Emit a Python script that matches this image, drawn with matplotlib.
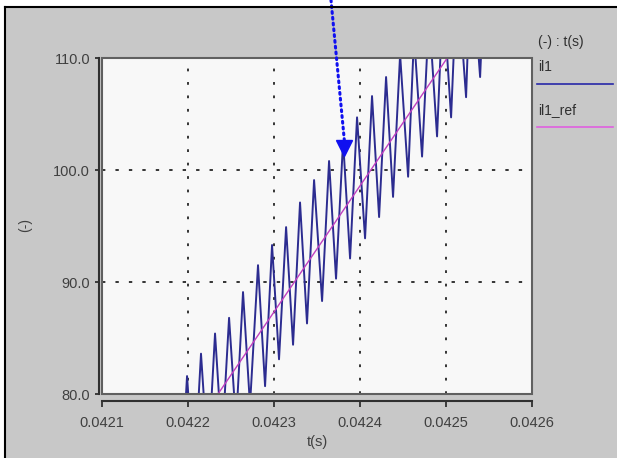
import numpy as np
import matplotlib
matplotlib.use('Agg')
import matplotlib.pyplot as plt
from matplotlib.patches import Rectangle
from matplotlib.lines import Line2D

plt.rcParams['font.family'] = ['Liberation Sans', 'DejaVu Sans']

#---datos---------------------------------------------------------------
# picos de il1
peak_t = [0.0421991, 0.0422153, 0.0422316, 0.0422479, 0.0422641, 0.0422815,
          0.0422978, 0.0423141, 0.0423303, 0.0423466, 0.0423640, 0.0423803,
          0.0423965, 0.0424139, 0.0424302, 0.0424465, 0.0424627, 0.0424801,
          0.0424964, 0.0425127, 0.0425289, 0.0425463, 0.0425627]
peak_v = [81.6, 83.6, 85.4, 86.8, 89.1, 91.5, 93.3, 94.9, 97.1, 99.1, 100.8,
          102.6, 104.7, 106.6, 108.3, 110.3, 112.0, 114.0, 115.8, 117.6, 119.4,
          121.0, 122.8]
# valles de il1
trough_t = [0.0421909, 0.0422072, 0.0422235, 0.0422397, 0.0422560, 0.0422722,
            0.0422897, 0.0423059, 0.0423222, 0.0423384, 0.0423559, 0.0423721,
            0.0423884, 0.0424058, 0.0424221, 0.0424383, 0.0424558, 0.0424720,
            0.0424894, 0.0425057, 0.0425231, 0.0425394, 0.0425556]
trough_v = [70.6, 72.3, 74.0, 75.6, 77.3, 79.0, 80.7, 83.1, 84.4, 86.3, 88.3,
            90.3, 92.1, 93.9, 95.8, 97.6, 99.4, 101.2, 103.0, 104.7, 106.5,
            108.3, 110.1]
# referencia il1_ref
ref_t = [0.0422000, 0.0425500]
ref_v = [76.05, 115.5]

# punta de la flecha (marcador)
flecha_t = 0.0423818
flecha_v = 102.0

xticks = [0.0421, 0.0422, 0.0423, 0.0424, 0.0425, 0.0426]
yticks = [80.0, 90.0, 100.0, 110.0]

t_il1 = np.array(peak_t + trough_t)
v_il1 = np.array(peak_v + trough_v)
orden = np.argsort(t_il1)
t_il1, v_il1 = t_il1[orden], v_il1[orden]

#---figura-------------------------------------------------------------
W, H = 617, 458
fig = plt.figure(figsize=(W/100, H/100), dpi=100, facecolor='white')
gris = '#c8c8c8'
fig.patches.append(Rectangle((5/W, 0), 1, (H-7)/H, transform=fig.transFigure,
                             facecolor=gris, edgecolor='none', zorder=-10))
fig.lines.append(Line2D([5/W, 1], [(H-7)/H]*2, transform=fig.transFigure,
                        color='black', lw=1.5))
fig.lines.append(Line2D([5/W, 5/W], [0, (H-7)/H], transform=fig.transFigure,
                        color='black', lw=1.5))

x0, x1, y0, y1 = 101.7, 532.3, 58, 394
ax = fig.add_axes([x0/W, 1-y1/H, (x1-x0)/W, (y1-y0)/H])
ax.set_facecolor('#f8f8f8')

#---grilla-------------------------------------------------------------
for xv in xticks[1:-1]:
    ax.axvline(xv, color='black', lw=1.1, dashes=(1.8, 7.0), zorder=1)
for yv in yticks[1:-1]:
    ax.axhline(yv, color='black', lw=1.1, dashes=(2.2, 6.6), zorder=1)

#---curvas-------------------------------------------------------------
ax.plot(ref_t, ref_v, color='#c040c0', lw=1.0, zorder=3)
ax.plot(t_il1, v_il1, color='#2c2c90', lw=1.4, zorder=2)

ax.set_xlim(0.0421, 0.0426)
ax.set_ylim(80, 110)
ax.set_xticks(xticks)
ax.set_xticklabels(['%.4f' % v for v in xticks])
ax.set_yticks(yticks)
ax.set_yticklabels(['%.1f' % v for v in yticks])

#---ejes---------------------------------------------------------------
for s in ['top', 'right']:
    ax.spines[s].set_visible(False)
ax.spines['left'].set_position(('outward', 2.3))
ax.spines['bottom'].set_position(('outward', 5))
for s in ['left', 'bottom']:
    ax.spines[s].set_linewidth(1.5)
    ax.spines[s].set_color('#303030')
ax.add_patch(Rectangle((0, 0), 1, 1, transform=ax.transAxes, fill=False,
                       edgecolor='#606060', lw=1.5, clip_on=False, zorder=5))
ax.tick_params(axis='x', direction='out', length=4.5, width=1.3, color='#303030',
               labelsize=10.5, labelcolor='#404040', pad=6)
ax.tick_params(axis='y', direction='out', length=3, width=1.3, color='#303030',
               labelsize=10.5, labelcolor='#404040', pad=3)

ax.set_xlabel('t(s)', fontsize=10.5, color='#404040', labelpad=4)
fig.text(25/W, 1-225/H, '(-)', rotation=90, fontsize=10, color='#404040',
         ha='center', va='center')

#---leyenda------------------------------------------------------------
fig.text(538/W, 1-42/H, '(-) : t(s)', fontsize=10, color='#303030', va='center')
fig.text(538/W, 1-67/H, 'il1', fontsize=10, color='#303030', va='center')
fig.lines.append(Line2D([537/W, 613/W], [1-84/H]*2, transform=fig.transFigure,
                        color='#2828a8', lw=1.2))
fig.text(538/W, 1-110/H, 'il1_ref', fontsize=10, color='#303030', va='center')
fig.lines.append(Line2D([537/W, 613/W], [1-127/H]*2, transform=fig.transFigure,
                        color='#e060e0', lw=1.2))

#---flecha-------------------------------------------------------------
ax.annotate('', xy=(flecha_t, flecha_v + 0.6), xycoords='data',
            xytext=(331/W, 1.0), textcoords='figure fraction',
            arrowprops=dict(arrowstyle='-', color='#1010f0', lw=2.2,
                            linestyle=(0, (0.6, 1.3)), shrinkA=0, shrinkB=0),
            annotation_clip=False, zorder=6)
ax.plot([flecha_t], [flecha_v], marker='v', ms=11.5, color='#1010f0',
        mec='#1010f0', clip_on=False, zorder=7)

plt.savefig('out.png', dpi=100, facecolor=fig.get_facecolor())
